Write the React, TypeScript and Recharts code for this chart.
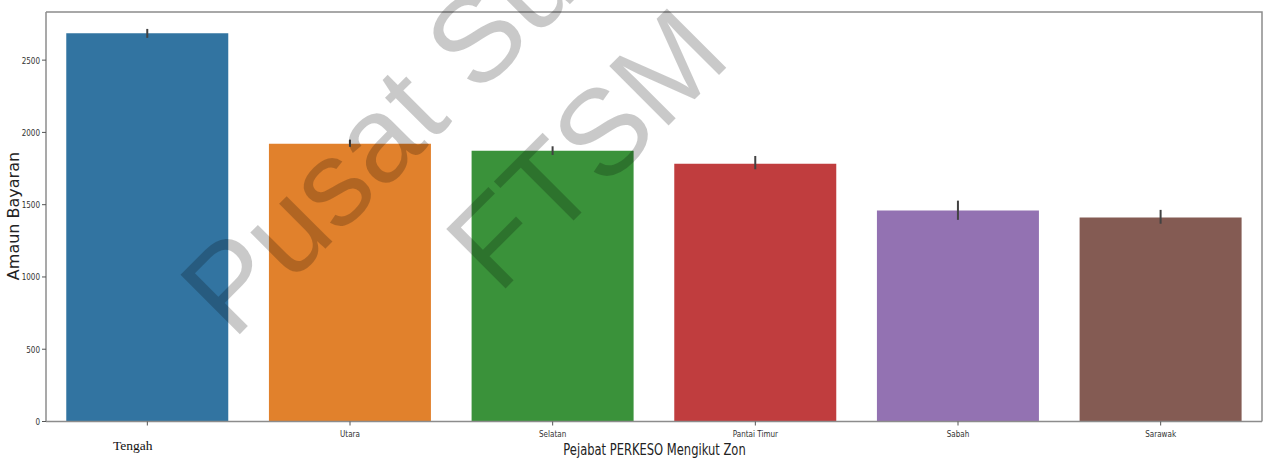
import React from 'react';
import { BarChart, Bar, XAxis, YAxis, Cell, ErrorBar } from 'recharts';

// mean payment per PERKESO zone office, with 95% CI bounds
const zones = ['Tengah', 'Utara', 'Selatan', 'Pantai Timur', 'Sabah', 'Sarawak'];
const meanPayment = [2686, 1922, 1873, 1784, 1459, 1411];
const ciLow = [2654, 1900, 1844, 1745, 1395, 1368];
const ciHigh = [2716, 1950, 1904, 1837, 1528, 1464];
const yTicks = [0, 500, 1000, 1500, 2000, 2500];

const COLORS = ['#3274a1', '#e1812c', '#3a923a', '#c03d3e', '#9372b2', '#845b53'];
const SPINE = '#8c8c8c';
const SANS = '"DejaVu Sans", sans-serif';
// the exported figure was squeezed horizontally, so its text is narrow
const SQUEEZE = 0.76;

const W = 1269;
const H = 458;
const M = { top: 12, right: 7, left: 0, bottom: 0 };
const Y_AXIS_W = 46;
const X_AXIS_H = 36.5;

const rows = zones.map((zone, i) => ({
  zone,
  amount: meanPayment[i],
  ci: [meanPayment[i] - ciLow[i], ciHigh[i] - meanPayment[i]],
}));

function Squeezed({ x, y, anchor, size, children }: any) {
  return (
    <text
      transform={`translate(${x} ${y}) scale(${SQUEEZE} 1)`}
      textAnchor={anchor}
      fontFamily={SANS}
      fontSize={size}
      fill="#333"
    >
      {children}
    </text>
  );
}

function ZoneTick(props: any) {
  const { x, y, payload } = props;
  // the first label was typed in by hand, in a serif face
  if (payload.value === 'Tengah') {
    return (
      <text x={x - 14.5} y={y + 22} textAnchor="middle" fontFamily='"Liberation Serif", serif' fontSize={13.5} fill="#111">
        {payload.value}
      </text>
    );
  }
  return (
    <Squeezed x={x} y={y + 9} anchor="middle" size={9.5}>
      {payload.value}
    </Squeezed>
  );
}

function AmountTick(props: any) {
  const { x, y, payload } = props;
  return (
    <Squeezed x={x} y={y + 3.4} anchor="end" size={9.5}>
      {payload.value}
    </Squeezed>
  );
}

export default function App() {
  const plotL = M.left + Y_AXIS_W;
  const plotT = M.top;
  const plotW = W - M.right - plotL;
  const plotH = H - M.bottom - X_AXIS_H - plotT;

  return (
    <div style={{ position: 'absolute', left: 0, top: 0, width: W, height: H, background: '#fff' }}>
      <BarChart width={W} height={H} data={rows} margin={M} barCategoryGap="10%">
        <XAxis
          dataKey="zone"
          height={X_AXIS_H}
          interval={0}
          tickSize={4}
          tickMargin={2}
          axisLine={{ stroke: SPINE, strokeWidth: 1.5 }}
          tickLine={{ stroke: '#555' }}
          tick={<ZoneTick />}
        />
        <YAxis
          width={Y_AXIS_W}
          type="number"
          domain={[0, 2833]}
          ticks={yTicks}
          tickSize={4}
          tickMargin={2}
          axisLine={{ stroke: SPINE, strokeWidth: 1.5 }}
          tickLine={{ stroke: '#555' }}
          tick={<AmountTick />}
        />
        <Bar dataKey="amount" isAnimationActive={false}>
          {rows.map((r, i) => (
            <Cell key={r.zone} fill={COLORS[i]} />
          ))}
          <ErrorBar dataKey="ci" width={0} stroke="#424242" strokeWidth={2} direction="y" />
        </Bar>
      </BarChart>

      <svg width={W} height={H} style={{ position: 'absolute', left: 0, top: 0, pointerEvents: 'none' }}>
        {/* top and right spines */}
        <polyline
          points={`${plotL},${plotT} ${plotL + plotW},${plotT} ${plotL + plotW},${plotT + plotH}`}
          fill="none"
          stroke={SPINE}
          strokeWidth={1.5}
        />
        <text
          x={19}
          y={216}
          transform="rotate(-90 19 216)"
          textAnchor="middle"
          fontFamily={SANS}
          fontSize={16}
          fill="#222"
        >
          Amaun Bayaran
        </text>
        <text
          transform={`translate(654.5 455) scale(0.72 1)`}
          textAnchor="middle"
          fontFamily={SANS}
          fontSize={16}
          fill="#222"
        >
          Pejabat PERKESO Mengikut Zon
        </text>
        {/* library watermark */}
        <g fontFamily='"Liberation Sans", Arial, sans-serif' fontSize={122} fill="#000" fillOpacity={0.21} textAnchor="middle">
          <text x={506} y={68} transform="rotate(-45 506 68)">Pusat Sumber</text>
          <text x={616} y={178} transform="rotate(-45 616 178)">FTSM</text>
        </g>
      </svg>
    </div>
  );
}
